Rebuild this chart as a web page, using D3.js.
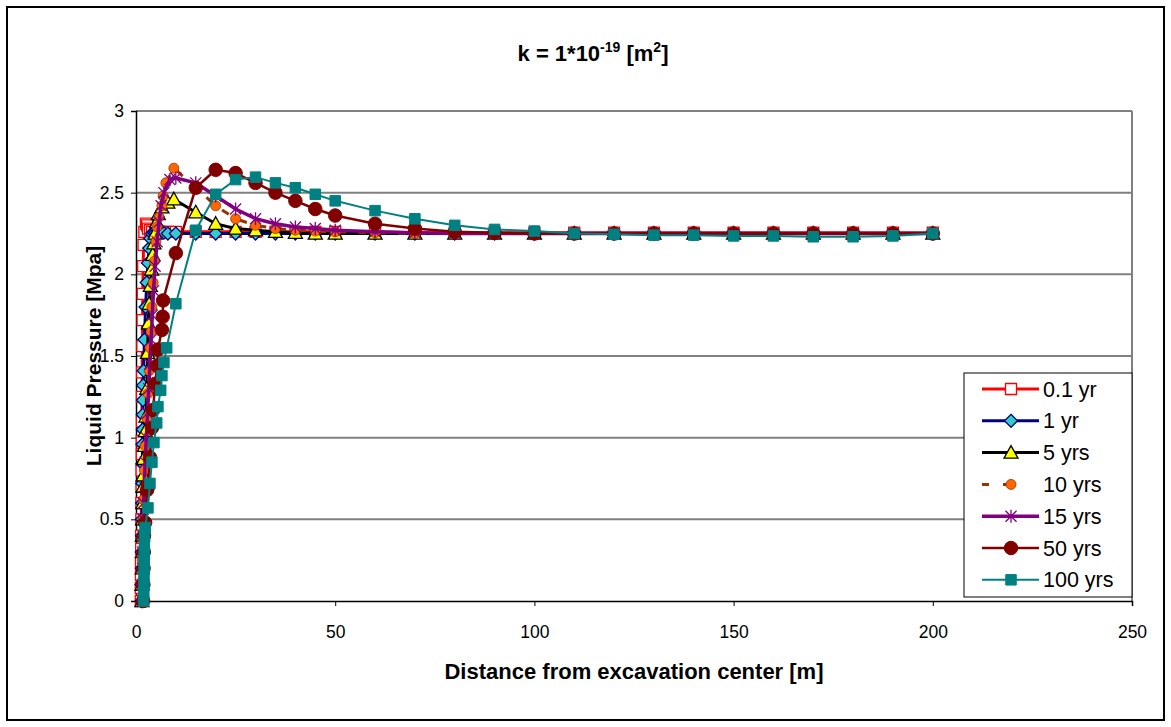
<!DOCTYPE html>
<html>
<head>
<meta charset="utf-8">
<script src="https://cdn.jsdelivr.net/npm/d3@7"></script>
<style>
  body { margin: 0; background: #fff; }
  text { font-family: "Liberation Sans", Arial, sans-serif; }
</style>
</head>
<body>
<div id="vis"></div>
<script>
const W = 1171, H = 727;
const plot = { left: 136, right: 1132, top: 111, bottom: 601 };

const xTicks = [0, 50, 100, 150, 200, 250];
const yTicks = [0, 0.5, 1, 1.5, 2, 2.5, 3];
const seriesNames = ["0.1 yr", "1 yr", "5 yrs", "10 yrs", "15 yrs", "50 yrs", "100 yrs"];

// far field distances shared by all series
const farX = [60, 70, 80, 90, 100, 110, 120, 130, 140, 150, 160, 170, 180, 190, 200];

// [distance m, pressure MPa]
const yr01 = [[1.2,0],[1.2,0.08],[1.25,0.16],[1.25,0.24],[1.3,0.32],[1.3,0.4],[1.35,0.5],[1.35,0.6],[1.4,0.7],
  [1.4,0.8],[1.45,0.9],[1.45,0.98],[1.5,1.1],[1.5,1.25],[1.55,1.4],[1.6,1.56],[1.65,1.72],[1.7,1.88],
  [1.8,2.05],[1.9,2.18],[2.1,2.26],[2.5,2.31],[2.8,2.3],[3,2.28],[3.5,2.27],[4,2.26],[5,2.26],[6,2.26],
  [7,2.26],[8,2.26],[10,2.26],[15,2.26],[20,2.26],[25,2.26],[30,2.26],[35,2.26],[40,2.26],[45,2.26],[50,2.26]];
const yr01Far = [2.26, 2.255, 2.255, 2.255, 2.255, 2.255, 2.255, 2.255, 2.255, 2.255, 2.255, 2.255, 2.255, 2.255, 2.255];

const yr1 = [[1.4,0],[1.4,0.1],[1.45,0.2],[1.45,0.3],[1.5,0.4],[1.5,0.5],[1.55,0.6],[1.6,0.72],[1.6,0.84],
  [1.65,0.96],[1.7,1.05],[1.7,1.14],[1.75,1.23],[1.8,1.32],[1.9,1.41],[2.1,1.6],[2.4,1.8],[2.7,1.95],
  [3,2.07],[3.3,2.16],[3.6,2.22],[4,2.25],[4.5,2.255],[5,2.255],[6,2.255],[7,2.255],[8,2.25],[10,2.25],
  [15,2.25],[20,2.25],[25,2.25],[30,2.25],[35,2.25],[40,2.25],[45,2.25],[50,2.25]];
const yr1Far = [2.25, 2.25, 2.25, 2.25, 2.25, 2.25, 2.25, 2.25, 2.25, 2.25, 2.25, 2.25, 2.25, 2.25, 2.25];

const yr5 = [[1.5,0],[1.5,0.1],[1.55,0.2],[1.6,0.3],[1.6,0.4],[1.65,0.5],[1.7,0.6],[1.75,0.7],[1.8,0.77],
  [1.9,0.87],[2.1,0.95],[2.3,1.04],[2.5,1.13],[2.7,1.3],[2.9,1.52],[3.1,1.7],[3.3,1.82],[3.6,1.93],
  [3.9,2.03],[4.2,2.12],[4.5,2.19],[4.8,2.25],[5.2,2.32],[5.6,2.37],[6.5,2.41],[8,2.44],[9.5,2.46],
  [15,2.38],[20,2.31],[25,2.28],[30,2.27],[35,2.26],[40,2.255],[45,2.25],[50,2.25]];
const yr5Far = [2.25, 2.25, 2.25, 2.25, 2.25, 2.25, 2.25, 2.25, 2.25, 2.25, 2.25, 2.25, 2.25, 2.25, 2.25];

const yr10 = [[1.5,0],[1.55,0.12],[1.6,0.25],[1.7,0.38],[1.8,0.5],[1.9,0.62],[2.1,0.8],[2.3,0.95],[2.7,1.12],
  [3,1.27],[3.3,1.41],[3.5,1.55],[3.8,1.65],[4,1.8],[4.3,1.95],[4.6,2.08],[5,2.2],[5.3,2.29],[5.8,2.35],
  [6.5,2.42],[6.8,2.48],[7.5,2.56],[9.5,2.65],[15,2.53],[20,2.42],[25,2.34],[30,2.3],[35,2.28],
  [40,2.27],[45,2.265],[50,2.26]];
const yr10Far = [2.255, 2.25, 2.25, 2.25, 2.25, 2.25, 2.25, 2.25, 2.25, 2.25, 2.25, 2.25, 2.25, 2.25, 2.25];

const yr15 = [[1.6,0],[1.6,0.1],[1.65,0.2],[1.7,0.3],[1.75,0.4],[1.8,0.5],[1.9,0.6],[2.1,0.7],[2.3,0.85],
  [2.6,1],[2.9,1.15],[3.2,1.3],[3.5,1.45],[3.8,1.6],[4.1,1.75],[4.4,1.9],[4.8,2.05],[5.3,2.2],[5.8,2.32],
  [6.3,2.42],[7,2.5],[8.5,2.58],[10,2.59],[15,2.56],[20,2.48],[25,2.4],[30,2.34],[35,2.31],[40,2.29],
  [45,2.28],[50,2.27]];
const yr15Far = [2.26, 2.255, 2.25, 2.25, 2.25, 2.25, 2.25, 2.25, 2.25, 2.25, 2.25, 2.25, 2.25, 2.25, 2.25];

const yr50 = [[1.8,0],[1.85,0.1],[1.9,0.2],[1.95,0.3],[2,0.4],[2.3,0.48],[2.8,0.68],[3,0.7],[3.5,0.88],
  [4,1.06],[4.3,1.17],[4.8,1.33],[5.3,1.44],[5.5,1.54],[6.5,1.66],[6.7,1.74],[6.8,1.84],[10,2.13],
  [15,2.53],[20,2.64],[25,2.62],[30,2.56],[35,2.5],[40,2.45],[45,2.4],[50,2.36]];
const yr50Far = [2.31, 2.28, 2.26, 2.255, 2.25, 2.25, 2.25, 2.25, 2.25, 2.25, 2.25, 2.25, 2.25, 2.25, 2.25];

const yr100 = [[1.9,0],[1.95,0.05],[2,0.1],[2,0.15],[2.05,0.2],[2.05,0.25],[2.1,0.3],[2.1,0.35],[2.15,0.4],
  [2.3,0.45],[3,0.57],[3.5,0.72],[4,0.85],[4.5,0.97],[5.2,1.09],[5.5,1.19],[6.2,1.29],[6.5,1.38],
  [7,1.46],[7.7,1.55],[10,1.82],[15,2.27],[20,2.49],[25,2.58],[30,2.595],[35,2.56],[40,2.53],[45,2.49],[50,2.45]];
const yr100Far = [2.39, 2.34, 2.3, 2.275, 2.265, 2.25, 2.245, 2.24, 2.24, 2.235, 2.235, 2.23, 2.23, 2.235, 2.25];

const seriesPoints = [
  yr01.concat(farX.map((x, i) => [x, yr01Far[i]])),
  yr1.concat(farX.map((x, i) => [x, yr1Far[i]])),
  yr5.concat(farX.map((x, i) => [x, yr5Far[i]])),
  yr10.concat(farX.map((x, i) => [x, yr10Far[i]])),
  yr15.concat(farX.map((x, i) => [x, yr15Far[i]])),
  yr50.concat(farX.map((x, i) => [x, yr50Far[i]])),
  yr100.concat(farX.map((x, i) => [x, yr100Far[i]])),
];

// line & marker styles, Excel-like
const styles = [
  { line: "#ff0000", width: 3, dash: null, marker: "square", size: 11, fill: "#fff", stroke: "#ff0000", sw: 1.3 },
  { line: "#000080", width: 3, dash: null, marker: "diamond", size: 13, fill: "#33cccc", stroke: "#000080", sw: 1.3 },
  { line: "#000000", width: 3, dash: null, marker: "triangle", size: 14, fill: "#ffff00", stroke: "#000", sw: 1.3 },
  { line: "#993300", width: 3, dash: "8,12", marker: "circle", size: 10, fill: "#ff6600", stroke: "#993300", sw: 0.8 },
  { line: "#800080", width: 3.5, dash: null, marker: "star", size: 13, fill: "none", stroke: "#800080", sw: 1.3 },
  { line: "#800000", width: 2.5, dash: null, marker: "circle", size: 13.5, fill: "#800000", stroke: "#800000", sw: 1 },
  { line: "#008080", width: 2, dash: null, marker: "square", size: 10.5, fill: "#008080", stroke: "#008080", sw: 1 },
];

function markerPath(type, s) {
  const h = s / 2;
  if (type === "square") return `M${-h},${-h}H${h}V${h}H${-h}Z`;
  if (type === "diamond") return `M0,${-h}L${h},0L0,${h}L${-h},0Z`;
  if (type === "triangle") return `M0,${-h}L${h},${h * 0.8}L${-h},${h * 0.8}Z`;
  if (type === "circle") return `M${h},0A${h},${h} 0 1,1 ${-h},0A${h},${h} 0 1,1 ${h},0Z`;
  if (type === "star") {
    const d = h * 0.85;
    return `M0,${-h}V${h}M${-d},${-d}L${d},${d}M${-d},${d}L${d},${-d}`;
  }
}

const svg = d3.select("#vis").append("svg").attr("width", W).attr("height", H);

svg.append("rect").attr("x", 7).attr("y", 7).attr("width", W - 14).attr("height", H - 14)
  .attr("fill", "#fff").attr("stroke", "#000").attr("stroke-width", 2);

const x = d3.scaleLinear().domain([0, 250]).range([plot.left, plot.right]);
const y = d3.scaleLinear().domain([0, 3]).range([plot.bottom, plot.top]);

// gridlines
svg.append("g").selectAll("line").data(yTicks.filter(d => d > 0)).enter().append("line")
  .attr("x1", plot.left).attr("x2", plot.right)
  .attr("y1", d => y(d)).attr("y2", d => y(d))
  .attr("stroke", "#808080").attr("stroke-width", 2);

// plot area right border
svg.append("line").attr("x1", plot.right).attr("x2", plot.right)
  .attr("y1", plot.top).attr("y2", plot.bottom)
  .attr("stroke", "#808080").attr("stroke-width", 2);

const xAxis = svg.append("g").attr("transform", `translate(0,${plot.bottom})`)
  .call(d3.axisBottom(x).tickValues(xTicks).tickSize(5).tickPadding(20).tickFormat(d3.format("d")));
const yAxis = svg.append("g").attr("transform", `translate(${plot.left},0)`)
  .call(d3.axisLeft(y).tickValues(yTicks).tickSize(5).tickPadding(7).tickFormat(d => String(d)));
[xAxis, yAxis].forEach(a => {
  a.select(".domain").attr("stroke", "#000").attr("stroke-width", 1.5);
  a.selectAll(".tick line").attr("stroke", "#000");
  a.selectAll("text").attr("font-size", 17.5).attr("fill", "#000")
    .style("font-family", '"Liberation Sans", Arial, sans-serif');
});

const line = d3.line().x(d => x(d[0])).y(d => y(d[1]));

seriesPoints.forEach((pts, i) => {
  const st = styles[i];
  const g = svg.append("g");
  g.append("path").datum(pts).attr("d", line)
    .attr("fill", "none").attr("stroke", st.line).attr("stroke-width", st.width)
    .attr("stroke-dasharray", st.dash).attr("stroke-linejoin", "round");
  g.selectAll("path.m").data(pts).enter().append("path").attr("class", "m")
    .attr("transform", d => `translate(${x(d[0])},${y(d[1])})`)
    .attr("d", markerPath(st.marker, st.size))
    .attr("fill", st.fill).attr("stroke", st.stroke).attr("stroke-width", st.sw);
});

// legend
const lg = svg.append("g");
lg.append("rect").attr("x", 964).attr("y", 373).attr("width", 168).attr("height", 224)
  .attr("fill", "#fff").attr("stroke", "#000").attr("stroke-width", 1);
seriesNames.forEach((name, i) => {
  const st = styles[i];
  const cy = 389 + i * 31.8;
  lg.append("line").attr("x1", 982).attr("x2", st.dash ? 1020 : 1039).attr("y1", cy).attr("y2", cy)
    .attr("stroke", st.line).attr("stroke-width", st.width).attr("stroke-dasharray", st.dash ? "7,14" : null);
  lg.append("path").attr("transform", `translate(1011,${cy})`)
    .attr("d", markerPath(st.marker, st.size))
    .attr("fill", st.fill).attr("stroke", st.stroke).attr("stroke-width", st.sw);
  lg.append("text").attr("x", 1043).attr("y", cy + 7.5).attr("font-size", 21.5).text(name);
});

// title
const title = svg.append("text").attr("x", 593).attr("y", 61).attr("text-anchor", "middle")
  .attr("font-size", 22).attr("font-weight", "bold");
title.append("tspan").text("k = 1*10");
title.append("tspan").attr("dy", -9).attr("font-size", 14).text("-19");
title.append("tspan").attr("dy", 9).text(" [m");
title.append("tspan").attr("dy", -9).attr("font-size", 14).text("2");
title.append("tspan").attr("dy", 9).text("]");

svg.append("text").attr("transform", "translate(101,356) rotate(-90)").attr("text-anchor", "middle")
  .attr("font-size", 21).attr("font-weight", "bold").text("Liquid Pressure [Mpa]");
svg.append("text").attr("x", 634).attr("y", 679).attr("text-anchor", "middle")
  .attr("font-size", 22).attr("font-weight", "bold").text("Distance from excavation center [m]");
</script>
</body>
</html>
